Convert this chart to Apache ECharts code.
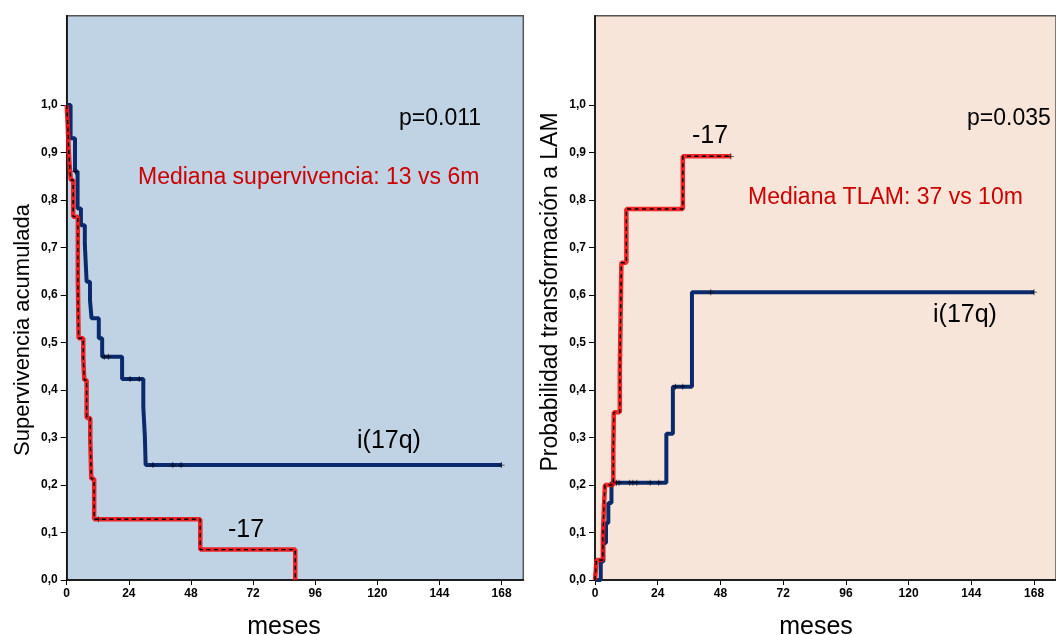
<!DOCTYPE html>
<html>
<head>
<meta charset="utf-8">
<script src="https://cdn.jsdelivr.net/npm/echarts@6/dist/echarts.min.js"></script>
<style>
  html, body { margin: 0; padding: 0; background: #ffffff; }
  #chart { width: 1056px; height: 635px; }
</style>
</head>
<body>
<div id="chart"></div>
<script>
// Time ticks (months) and probability ticks shared by both panels
const monthTicks = [0, 24, 48, 72, 96, 120, 144, 168];
const probTicks = [0, 0.1, 0.2, 0.3, 0.4, 0.5, 0.6, 0.7, 0.8, 0.9, 1.0];

// Left panel: overall survival, Kaplan-Meier steps [month, survival]
const survI17q = [
  [0, 1.0], [1.5, 0.930], [3.2, 0.860], [4.2, 0.782], [5.5, 0.747],
  [7.0, 0.707], [7.7, 0.628], [9.0, 0.589], [9.6, 0.551], [12.4, 0.509],
  [13.7, 0.470], [21.4, 0.423], [29.6, 0.364], [30.2, 0.302], [30.5, 0.242],
  [168, 0.242]
];
const survI17qCensored = [
  [3.4, 0.860], [14.5, 0.470], [16.1, 0.470], [24.5, 0.423], [28.0, 0.423],
  [33.3, 0.242], [41.0, 0.242], [44.2, 0.242], [168, 0.242]
];
const survMinus17 = [
  [0, 1.0], [0.4, 0.958], [0.7, 0.917], [1.0, 0.881], [1.6, 0.842],
  [2.5, 0.765], [4.3, 0.637], [4.6, 0.509], [6.4, 0.467], [6.8, 0.421],
  [7.7, 0.341], [9.1, 0.298], [9.3, 0.255], [9.5, 0.213], [10.6, 0.128],
  [51.6, 0.064], [88.3, 0.0]
];
const survMinus17Censored = [
  [12.2, 0.128]
];

// Right panel: cumulative probability of transformation to AML [month, probability]
const tlamI17q = [
  [0, 0], [2.2, 0.039], [3.2, 0.078], [4.2, 0.120], [5.1, 0.162],
  [6.3, 0.205], [27.3, 0.308], [29.8, 0.407], [37.1, 0.606], [168, 0.606]
];
const tlamI17qCensored = [
  [8.2, 0.205], [9.2, 0.205], [13.3, 0.205], [14.5, 0.205], [16.0, 0.205],
  [21.1, 0.205], [24.4, 0.205], [30.8, 0.407], [33.6, 0.407], [44.3, 0.606],
  [168, 0.606]
];
const tlamMinus17 = [
  [0, 0], [0.6, 0.042], [3.0, 0.090], [3.4, 0.150], [3.8, 0.200],
  [7.0, 0.270], [7.2, 0.353], [9.5, 0.440], [9.8, 0.556], [10.1, 0.668],
  [12.0, 0.781], [33.6, 0.892], [52.0, 0.892]
];
const tlamMinus17Censored = [
  [52.0, 0.892]
];

const NAVY = '#0b2a6b';
const RED = '#f01010';
const TEXT_RED = '#cc0000';
const PLUS = 'path://M2.6,0H3.4V2.6H6V3.4H3.4V6H2.6V3.4H0V2.6H2.6Z';
const FONT = '"Liberation Sans", Arial, sans-serif';

const chart = echarts.init(document.getElementById('chart'), null, { renderer: 'canvas' });

function xAxisFor(gridIndex) {
  return {
    type: 'value', gridIndex, min: 0, max: 176.4,
    splitLine: { show: false },
    axisLine: { show: true, onZero: false, lineStyle: { color: '#000', width: 1.5 } },
    axisTick: { show: true, length: 5, customValues: monthTicks, lineStyle: { color: '#000', width: 1 } },
    axisLabel: {
      customValues: monthTicks, margin: 8, color: '#000',
      fontFamily: FONT, fontWeight: 'bold', fontSize: 12
    }
  };
}
function yAxisFor(gridIndex) {
  return {
    type: 'value', gridIndex, min: 0, max: 1.188,
    splitLine: { show: false },
    axisLine: { show: true, onZero: false, lineStyle: { color: '#000', width: 1.5 } },
    axisTick: { show: true, length: 6, customValues: probTicks, lineStyle: { color: '#000', width: 1 } },
    axisLabel: {
      customValues: probTicks, margin: 9, color: '#000',
      fontFamily: FONT, fontWeight: 'bold', fontSize: 12,
      formatter: v => v.toFixed(1).replace('.', ',')
    }
  };
}

// A group is drawn as a thick red line with a black dashed core
function redDashed(data, xi, yi) {
  return [
    { type: 'line', xAxisIndex: xi, yAxisIndex: yi, data, step: 'end', symbol: 'none',
      lineStyle: { color: RED, width: 4.5, opacity: 0.9 }, z: 3, silent: true },
    { type: 'line', xAxisIndex: xi, yAxisIndex: yi, data, step: 'end', symbol: 'none',
      lineStyle: { color: '#000', width: 1.4, type: [4, 3.5] }, z: 4, silent: true }
  ];
}
function navyLine(data, xi, yi) {
  return { type: 'line', xAxisIndex: xi, yAxisIndex: yi, data, step: 'end', symbol: 'none',
    lineStyle: { color: NAVY, width: 4 }, z: 2, silent: true };
}
function censorMarks(data, xi, yi) {
  return { type: 'scatter', xAxisIndex: xi, yAxisIndex: yi, data, symbol: PLUS, symbolSize: 6,
    itemStyle: { color: '#000' }, z: 5, silent: true };
}

function label(text, x, y, size, color, extra) {
  return Object.assign({
    type: 'text', x, y,
    style: { text, fill: color, fontSize: size, fontFamily: FONT, textVerticalAlign: 'middle', textAlign: 'left' },
    z: 10
  }, extra || {});
}

const option = {
  animation: false,
  backgroundColor: '#ffffff',
  grid: [
    { left: 66.7, top: 15.7, width: 456.6, height: 564.3, show: true,
      backgroundColor: '#c0d3e5', borderColor: '#555555', borderWidth: 1.5 },
    { left: 595, top: 15.7, width: 464.1, height: 564.3, show: true,
      backgroundColor: '#f8e5d9', borderColor: '#555555', borderWidth: 1.5 }
  ],
  xAxis: [xAxisFor(0), xAxisFor(1)],
  yAxis: [yAxisFor(0), yAxisFor(1)],
  series: [
    navyLine(survI17q, 0, 0),
    ...redDashed(survMinus17, 0, 0),
    censorMarks(survI17qCensored, 0, 0),
    censorMarks(survMinus17Censored, 0, 0),
    navyLine(tlamI17q, 1, 1),
    ...redDashed(tlamMinus17, 1, 1),
    censorMarks(tlamI17qCensored, 1, 1),
    censorMarks(tlamMinus17Censored, 1, 1)
  ],
  graphic: [
    // left panel annotations
    label('p=0.011', 399, 119, 23, '#000'),
    label('Mediana supervivencia: 13 vs 6m', 138, 178, 23, TEXT_RED),
    label('i(17q)', 357, 441, 25, '#000'),
    label('-17', 228, 530, 25, '#000'),
    // right panel annotations
    label('p=0.035', 967, 119, 23, '#000'),
    label('-17', 692, 136, 25, '#000'),
    label('Mediana TLAM: 37 vs 10m', 748, 198, 23, TEXT_RED),
    label('i(17q)', 933, 315, 25, '#000'),
    // axis titles
    label('meses', 284, 627, 25, '#000', { style: { text: 'meses', fill: '#000', fontSize: 25, fontFamily: FONT, textAlign: 'center', textVerticalAlign: 'middle' } }),
    label('meses', 816, 627, 25, '#000', { style: { text: 'meses', fill: '#000', fontSize: 25, fontFamily: FONT, textAlign: 'center', textVerticalAlign: 'middle' } }),
    { type: 'text', x: 23, y: 330, rotation: Math.PI / 2, z: 10,
      style: { text: 'Supervivencia acumulada', fill: '#000', fontSize: 22, fontFamily: FONT, textAlign: 'center', textVerticalAlign: 'middle' } },
    { type: 'text', x: 551, y: 292, rotation: Math.PI / 2, z: 10,
      style: { text: 'Probabilidad transformación a LAM', fill: '#000', fontSize: 23, fontFamily: FONT, textAlign: 'center', textVerticalAlign: 'middle' } }
  ]
};

chart.setOption(option);
</script>
</body>
</html>
